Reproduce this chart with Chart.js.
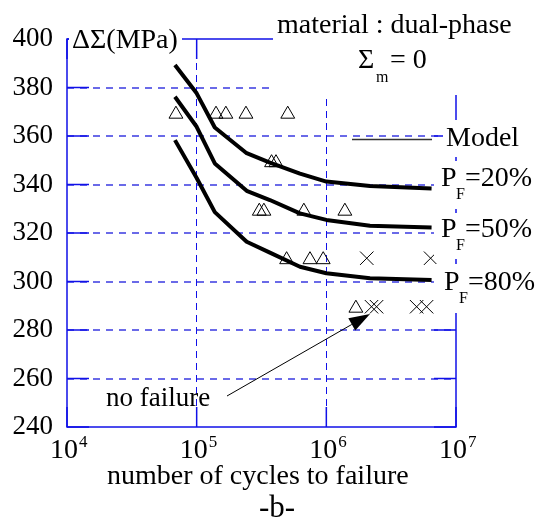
<!DOCTYPE html>
<html>
<head>
<meta charset="utf-8">
<script src="https://cdn.jsdelivr.net/npm/chart.js@4/dist/chart.umd.min.js"></script>
<style>
  html, body { margin: 0; padding: 0; background: #fff; }
  canvas { display: block; }
</style>
</head>
<body>
<canvas id="c" width="547" height="529"></canvas>
<script>
// ---- data ----
const curveCycles = [68000, 100000, 138000, 243000, 367000, 626000, 1000000, 2170000, 6480000];
const curve20 = [389.3, 377.6, 363.5, 352.9, 349.0, 344.5, 341.2, 339.4, 338.4];
const curve50 = [376.2, 363.8, 348.7, 337.4, 333.6, 328.1, 325.4, 323.0, 322.3];
const curve80 = [358.3, 342.7, 328.6, 316.4, 311.9, 306.1, 303.4, 301.3, 300.6];

const failCycles = [69200, 141000, 168000, 240000, 504000, 378000, 409000, 304000, 330000, 671000, 1390000, 494000, 748000, 946000, 1690000];
const failStress = [369, 369, 369, 369, 369, 349, 349, 329, 329, 329, 329, 309, 309, 309, 289];

const runoutCycles = [2050000, 6370000, 2230000, 2440000, 4970000, 5930000];
const runoutStress = [309.6, 309.6, 289.6, 289.6, 289.6, 289.6];

const xTickValues = [10000, 100000, 1000000, 10000000];
const xTickBase = '10';
const xTickExponents = ['4', '5', '6', '7'];
const yTickValues = [240, 260, 280, 300, 320, 340, 360, 380, 400];

const curveLabels = ['=20%', '=50%', '=80%'];

// ---- helpers ----
const pts = (xs, ys) => xs.map((x, i) => ({ x: x, y: ys[i] }));
const SERIF = '"Liberation Serif", "Times New Roman", serif';
const BLUE = '#1010e8';

const curveStyle = {
  showLine: true, borderColor: '#000', borderWidth: 4, pointRadius: 0,
  tension: 0, borderJoinStyle: 'round', borderCapStyle: 'butt', fill: false
};

const framePlugin = {
  id: 'frame',
  beforeDatasetsDraw(chart) {
    const { ctx, chartArea: a, scales } = chart;
    ctx.save();
    ctx.strokeStyle = BLUE;
    ctx.lineWidth = 1.5;
    ctx.setLineDash([]);
    ctx.strokeRect(a.left, a.top, a.right - a.left, a.bottom - a.top);
    // inward ticks
    yTickValues.forEach(v => {
      const y = scales.y.getPixelForValue(v);
      ctx.beginPath();
      ctx.moveTo(a.left, y); ctx.lineTo(a.left + 22, y);
      ctx.moveTo(a.right - 22, y); ctx.lineTo(a.right, y);
      ctx.stroke();
    });
    xTickValues.forEach(v => {
      const x = scales.x.getPixelForValue(v);
      ctx.beginPath();
      ctx.moveTo(x, a.bottom); ctx.lineTo(x, a.bottom - 20);
      ctx.moveTo(x, a.top); ctx.lineTo(x, a.top + 20);
      ctx.stroke();
    });
    ctx.restore();
  },
  afterDraw(chart) {
    const { ctx, scales } = chart;
    ctx.save();
    // white backgrounds of the annotation texts
    ctx.fillStyle = '#fff';
    ctx.fillRect(69, 16, 113, 44);
    ctx.fillRect(273, 0, 274, 95);
    ctx.fillRect(443, 120, 104, 37);
    ctx.fillRect(434, 161, 113, 48);
    ctx.fillRect(434, 213, 113, 46);
    ctx.fillRect(434, 264, 113, 49);

    ctx.fillStyle = '#000';
    ctx.textBaseline = 'alphabetic';
    ctx.textAlign = 'left';
    const f = s => s + 'px ' + SERIF;

    ctx.font = f(28);
    ctx.fillText('\u0394\u03A3(MPa)', 72, 48);
    ctx.fillText('material : dual-phase', 277, 33);
    ctx.fillText('\u03A3', 358, 68);
    ctx.fillText('= 0', 390, 68);
    ctx.font = f(16);
    ctx.fillText('m', 376, 82);

    // Model legend
    ctx.strokeStyle = '#333';
    ctx.lineWidth = 1.5;
    ctx.beginPath();
    ctx.moveTo(352, 139.5); ctx.lineTo(432, 139.5);
    ctx.stroke();
    ctx.font = f(28);
    ctx.fillText('Model', 446, 146);

    // P_F labels
    const pf = [[441, 186], [441, 237], [444, 290]];
    pf.forEach((p, i) => {
      ctx.font = f(28);
      ctx.fillText('P', p[0], p[1]);
      ctx.font = f(16);
      ctx.fillText('F', p[0] + 15, p[1] + 13);
      ctx.font = f(28);
      ctx.fillText(curveLabels[i], p[0] + 24, p[1]);
    });

    // no failure + arrow
    ctx.font = f(27);
    ctx.fillText('no failure', 106, 406);
    ctx.strokeStyle = '#000';
    ctx.lineWidth = 1;
    const x0 = 227, y0 = 396, x1 = 370, y1 = 314;
    const ang = Math.atan2(y1 - y0, x1 - x0);
    const hl = 21, hw = 7;
    const bx = x1 - hl * Math.cos(ang), by = y1 - hl * Math.sin(ang);
    ctx.beginPath();
    ctx.moveTo(x0, y0); ctx.lineTo(bx, by);
    ctx.stroke();
    ctx.beginPath();
    ctx.moveTo(x1, y1);
    ctx.lineTo(bx + hw * Math.sin(ang), by - hw * Math.cos(ang));
    ctx.lineTo(bx - hw * Math.sin(ang), by + hw * Math.cos(ang));
    ctx.closePath();
    ctx.fill();

    // x tick labels with superscripts
    xTickValues.forEach((v, i) => {
      const x = scales.x.getPixelForValue(v);
      ctx.font = f(28);
      ctx.fillText(xTickBase, x - 17, 458);
      const w = ctx.measureText(xTickBase).width;
      ctx.font = f(17);
      ctx.fillText(xTickExponents[i], x - 17 + w + 1, 447);
    });

    // axis title and caption
    ctx.font = f(28);
    ctx.fillText('number of cycles to failure', 107, 484);
    ctx.font = f(31);
    ctx.fillText('-b-', 259, 517);
    ctx.restore();
  }
};

new Chart(document.getElementById('c'), {
  type: 'scatter',
  data: {
    datasets: [
      Object.assign({ label: 'PF=20%', data: pts(curveCycles, curve20) }, curveStyle),
      Object.assign({ label: 'PF=50%', data: pts(curveCycles, curve50) }, curveStyle),
      Object.assign({ label: 'PF=80%', data: pts(curveCycles, curve80) }, curveStyle),
      { label: 'failure', data: pts(failCycles, failStress), showLine: false,
        pointStyle: 'triangle', pointRadius: 8, borderWidth: 1, borderColor: '#000',
        backgroundColor: 'rgba(0,0,0,0)' },
      { label: 'no failure', data: pts(runoutCycles, runoutStress), showLine: false,
        pointStyle: 'crossRot', pointRadius: 9.5, borderWidth: 1, borderColor: '#000',
        backgroundColor: 'rgba(0,0,0,0)' }
    ]
  },
  options: {
    responsive: false,
    animation: false,
    events: [],
    layout: { padding: { left: 0, right: 91, top: 39, bottom: 102 } },
    plugins: { legend: { display: false }, tooltip: { enabled: false } },
    scales: {
      x: {
        type: 'logarithmic', min: 10000, max: 10000000,
        afterBuildTicks: s => { s.ticks = xTickValues.map(v => ({ value: v })); },
        afterFit: s => { s.height = 0; },
        ticks: { display: false },
        grid: {
          drawTicks: false, lineWidth: 1,
          color: c => (c.tick && (c.tick.value === 10000 || c.tick.value === 10000000)) ? 'rgba(0,0,0,0)' : BLUE
        },
        border: { display: false, dash: [7, 5] }
      },
      y: {
        type: 'linear', min: 240, max: 400,
        afterBuildTicks: s => { s.ticks = yTickValues.map(v => ({ value: v })); },
        afterFit: s => { s.width = 67; },
        ticks: { color: '#000', padding: 14, font: { family: SERIF, size: 27 } },
        grid: {
          drawTicks: false, lineWidth: 2,
          color: c => (c.tick && (c.tick.value === 240 || c.tick.value === 400)) ? 'rgba(0,0,0,0)' : '#6a6ae8'
        },
        border: { display: false, dash: [7, 6] }
      }
    }
  },
  plugins: [framePlugin]
});
</script>
</body>
</html>
